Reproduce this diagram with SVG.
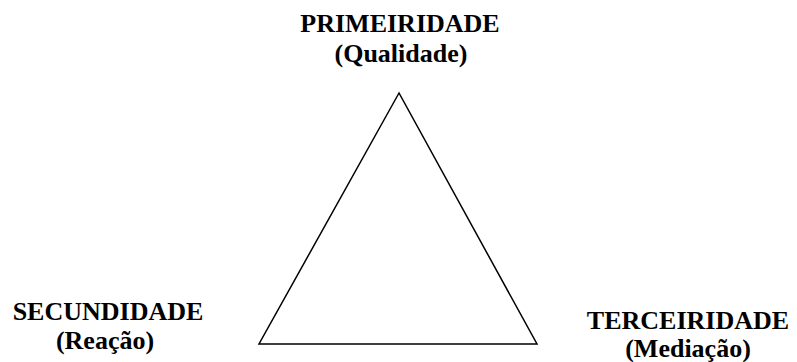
<svg xmlns="http://www.w3.org/2000/svg" width="797" height="362" viewBox="0 0 797 362">
<style>
text{font-family:"Liberation Serif","Times New Roman",serif;font-weight:bold;font-size:26px;fill:#000;text-anchor:middle}
.edge{fill:none;stroke:#000;stroke-width:1.5;stroke-linejoin:miter}
</style>
<rect width="797" height="362" fill="#fff"/>
<g id="connectors">
<polygon class="edge" points="399,93 259,344 537,344"/>
</g>
<g id="primeiridade"><text x="400" y="31.5">PRIMEIRIDADE</text><text x="401" y="62">(Qualidade)</text></g>
<g id="secundidade"><text x="108" y="320">SECUNDIDADE</text><text x="105" y="349">(Reação)</text></g>
<g id="terceiridade"><text x="688" y="328.5">TERCEIRIDADE</text><text x="688" y="357">(Mediação)</text></g>
</svg>
